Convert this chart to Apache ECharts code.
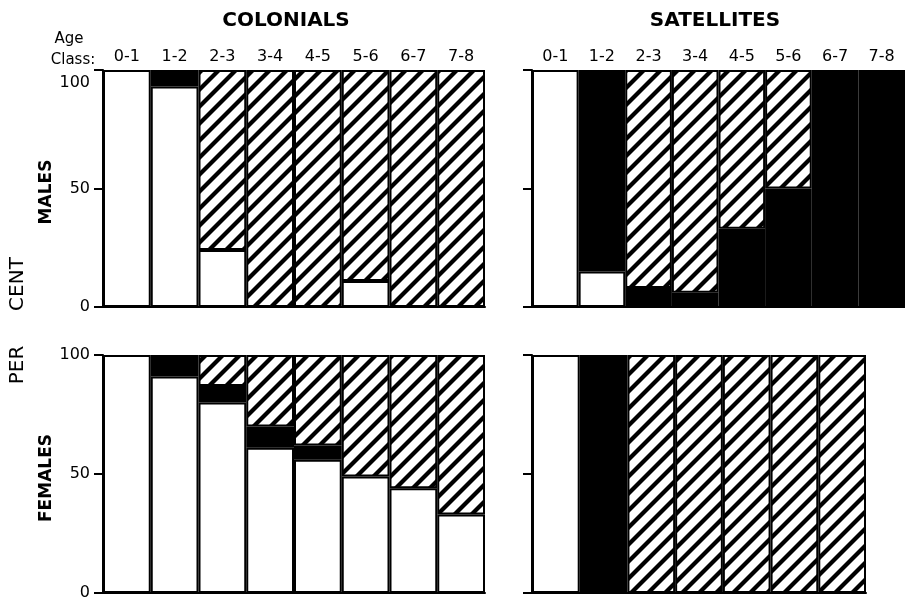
<!DOCTYPE html>
<html>
<head>
<meta charset="utf-8">
<script src="https://cdn.jsdelivr.net/npm/echarts@6/dist/echarts.min.js"></script>
<style>
  html, body { margin: 0; padding: 0; background: #fff; }
  #chart { width: 905px; height: 601px; }
</style>
</head>
<body>
<div id="chart"></div>
<script>
// Age classes (years)
const ageClasses = ['0-1', '1-2', '2-3', '3-4', '4-5', '5-6', '6-7', '7-8'];
const yTicks = [0, 50, 100];

// Per cent of each age class: open = white, solid = black, hatched
const colonialMalesOpen   = [100, 93, 24, 0, 0, 11, 0, 0];
const colonialMalesSolid  = [0, 7, 0, 0, 0, 0, 0, 0];
const colonialMalesHatch  = [0, 0, 76, 100, 100, 89, 100, 100];

const satelliteMalesOpen  = [100, 15, 0, 0, 0, 0, 0, 0];
const satelliteMalesSolid = [0, 85, 8, 6, 33, 50, 100, 100];
const satelliteMalesHatch = [0, 0, 92, 94, 67, 50, 0, 0];

const colonialFemalesOpen  = [100, 91, 80, 61, 56, 49, 44, 33];
const colonialFemalesSolid = [0, 9, 7, 9, 6, 0, 0, 0];
const colonialFemalesHatch = [0, 0, 13, 30, 38, 51, 56, 67];

// no 7-8 class among satellite females
const satelliteFemalesOpen  = [100, 0, 0, 0, 0, 0, 0];
const satelliteFemalesSolid = [0, 100, 0, 0, 0, 0, 0];
const satelliteFemalesHatch = [0, 0, 100, 100, 100, 100, 100];

const FONT = 'DejaVu Sans';

// diagonal "/" hatching, drawn past the tile edges so the tiles join cleanly
function hatchPattern() {
  const P = 17;
  const c = document.createElement('canvas');
  c.width = P; c.height = P;
  const g = c.getContext('2d');
  g.fillStyle = '#fff';
  g.fillRect(0, 0, P, P);
  g.strokeStyle = '#000';
  g.lineWidth = 4.2;
  g.lineCap = 'square';
  for (let k = -1; k <= 1; k++) {
    g.beginPath();
    g.moveTo(k * P - P, 2 * P);
    g.lineTo(k * P + 2 * P, -P);
    g.stroke();
  }
  return c;
}
const hatchFill = { image: hatchPattern(), repeat: 'repeat' };

const panels = [
  { grid: { left: 103, top: 70, width: 382, height: 237 }, labels: true, yLabels: true, dropTop: true,
    open: colonialMalesOpen, solid: colonialMalesSolid, hatch: colonialMalesHatch },
  { grid: { left: 532, top: 70, width: 382, height: 237 }, labels: true, yLabels: false,
    open: satelliteMalesOpen, solid: satelliteMalesSolid, hatch: satelliteMalesHatch },
  { grid: { left: 103, top: 355, width: 382, height: 238 }, labels: false, yLabels: true,
    open: colonialFemalesOpen, solid: colonialFemalesSolid, hatch: colonialFemalesHatch },
  { grid: { left: 532, top: 355, width: 334, height: 238 }, labels: false, yLabels: false,
    open: satelliteFemalesOpen, solid: satelliteFemalesSolid, hatch: satelliteFemalesHatch }
];

const grids = [], xAxes = [], yAxes = [], series = [];
const blank = v => (v === 0 ? '-' : v);
const yMax = yTicks[yTicks.length - 1];

panels.forEach((p, i) => {
  const cats = ageClasses.slice(0, p.open.length);
  grids.push(p.grid);
  const baseIndex = xAxes.length;
  xAxes.push({
    type: 'category', gridIndex: i, data: cats, position: 'bottom',
    axisLine: { show: true, lineStyle: { color: '#000', width: 2 } },
    axisTick: { show: false }, axisLabel: { show: false }
  });
  if (p.labels) {
    xAxes.push({
      type: 'category', gridIndex: i, data: cats, position: 'top',
      axisLine: { show: false }, axisTick: { show: false },
      axisLabel: { show: true, color: '#000', fontSize: 16, fontFamily: FONT, margin: 5 }
    });
  }
  yAxes.push({
    type: 'value', gridIndex: i, min: yTicks[0], max: yMax, interval: 50,
    axisLine: { show: true, lineStyle: { color: '#000', width: 2 } },
    axisTick: { show: true, length: 9, lineStyle: { color: '#000', width: 2 } },
    splitLine: { show: false },
    axisLabel: {
      show: p.yLabels, color: '#000', fontSize: 16, fontFamily: FONT, margin: 13,
      // the top label of the upper panel sits a little lower, clear of the age-class row
      formatter: v => (p.dropTop && v === yMax ? '{low|' + v + '}' : String(v)),
      rich: { low: { fontSize: 16, fontFamily: FONT, color: '#000', padding: [25, 0, 0, 0] } }
    }
  });
  const common = {
    type: 'bar', xAxisIndex: baseIndex, yAxisIndex: i, stack: 'p' + i,
    barCategoryGap: '0%', silent: true, animation: false
  };
  series.push(Object.assign({}, common, {
    data: p.open.map(blank),
    itemStyle: { color: '#fff', borderColor: '#000', borderWidth: 2 }
  }));
  series.push(Object.assign({}, common, {
    data: p.solid.map(blank),
    itemStyle: { color: '#000', borderColor: '#000', borderWidth: 2 }
  }));
  series.push(Object.assign({}, common, {
    data: p.hatch.map(blank),
    itemStyle: { color: hatchFill, borderColor: '#000', borderWidth: 2 }
  }));
});

function label(text, x, y, size, rot, weight) {
  return {
    type: 'text', x: x, y: y, rotation: rot || 0, silent: true,
    style: {
      text: text, fill: '#000', fontSize: size, fontFamily: FONT,
      fontWeight: weight || 'normal',
      align: 'center', verticalAlign: 'middle',
      textAlign: 'center', textVerticalAlign: 'middle'
    }
  };
}

const chart = echarts.init(document.getElementById('chart'), null, { renderer: 'canvas' });
chart.setOption({
  backgroundColor: '#fff',
  animation: false,
  grid: grids,
  xAxis: xAxes,
  yAxis: yAxes,
  series: series,
  graphic: [
    label('COLONIALS', 286, 21, 20, 0, 'bold'),
    label('SATELLITES', 715, 21, 20, 0, 'bold'),
    label('Age', 69, 39, 15),
    label('Class:', 73, 60, 15),
    label('MALES', 47, 192, 17, Math.PI / 2, 'bold'),
    label('FEMALES', 47, 478, 17, Math.PI / 2, 'bold'),
    label('CENT', 18, 284, 20, Math.PI / 2),
    label('PER', 18, 365, 20, Math.PI / 2)
  ]
});
</script>
</body>
</html>
